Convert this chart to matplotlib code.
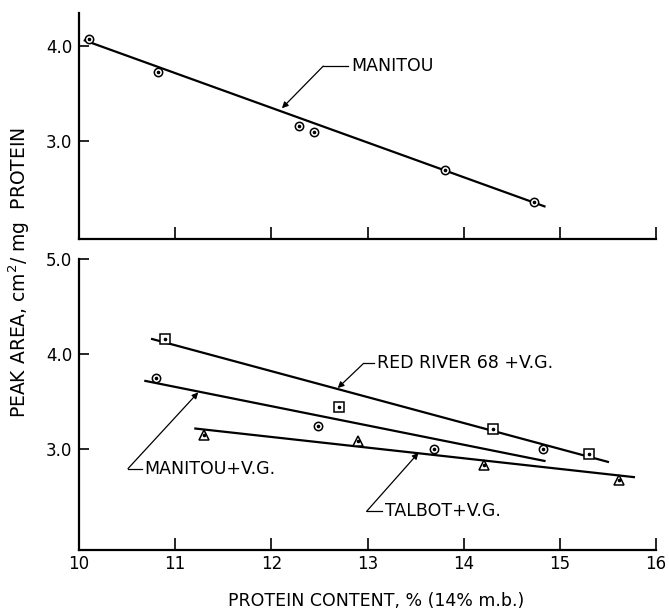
import numpy as np
import matplotlib
matplotlib.use("Agg")
import matplotlib.pyplot as plt

plt.rcParams['font.family'] = ['DejaVu Sans']

# upper panel: Manitou
man_x = [10.10, 10.82, 12.29, 12.44, 13.81, 14.73]
man_y = [4.08, 3.73, 3.155, 3.095, 2.69, 2.36]
man_fit_x = [10.06, 14.84]
man_fit_y = [4.06, 2.31]

# lower panel: flour + vital gluten
rr_x = [10.89, 12.70, 14.30, 15.30]
rr_y = [4.16, 3.446, 3.22, 2.95]
rr_fit_x = [10.76, 15.50]
rr_fit_y = [4.16, 2.87]

mvg_x = [10.80, 12.49, 13.69, 14.82]
mvg_y = [3.75, 3.25, 3.00, 3.00]
mvg_fit_x = [10.69, 14.84]
mvg_fit_y = [3.72, 2.88]

tal_x = [11.30, 12.90, 14.21, 15.61]
tal_y = [3.15, 3.09, 2.84, 2.675]
tal_fit_x = [11.21, 15.77]
tal_fit_y = [3.22, 2.71]

top_yticks = [3.0, 4.0]
bot_yticks = [3.0, 4.0, 5.0]
xticks = [10, 11, 12, 13, 14, 15, 16]

fig = plt.figure(figsize=(6.69, 6.09), dpi=100)
ax1 = fig.add_axes([0.1181, 0.6076, 0.8625, 0.3706])
ax2 = fig.add_axes([0.1181, 0.0977, 0.8625, 0.4770])


def style(ax, yticks, ylim, labels):
    ax.set_xlim(10, 16)
    ax.set_ylim(*ylim)
    for s in ['top', 'right']:
        ax.spines[s].set_visible(False)
    for s in ['left', 'bottom']:
        ax.spines[s].set_linewidth(1.6)
    ax.set_xticks(xticks)
    ax.set_yticks(yticks)
    ax.set_yticklabels(['%.1f' % v for v in yticks], fontsize=12)
    if labels:
        ax.set_xticklabels([str(v) for v in xticks], fontsize=12)
    else:
        ax.set_xticklabels([])
    ax.tick_params(axis='x', direction='in', length=9, width=1.2, pad=4)
    ax.tick_params(axis='y', direction='in', length=7, width=1.2, pad=5)


def pts(ax, x, y, marker, ms):
    ax.plot(x, y, linestyle='none', marker=marker, ms=ms, mfc='white',
            mec='black', mew=1.1, zorder=3)
    ax.plot(x, y, linestyle='none', marker='o', ms=1.6, color='black', zorder=4)


def leader(ax, label, tip, elbow, tx):
    ax.plot([elbow[0], tx - 0.03], [elbow[1], elbow[1]], color='black', lw=0.9)
    ax.annotate('', xy=tip, xytext=elbow,
                arrowprops=dict(arrowstyle='-|>', color='black', lw=0.9,
                                mutation_scale=9, shrinkA=0, shrinkB=0))
    ax.text(tx, elbow[1], label, ha='left', va='center', fontsize=12.5)


style(ax1, top_yticks, (1.966, 4.347), False)
style(ax2, bot_yticks, (1.95, 5.0), True)

ax1.plot(man_fit_x, man_fit_y, color='black', lw=1.6)
pts(ax1, man_x, man_y, 'o', 6)
leader(ax1, 'MANITOU', (12.11, 3.345), (12.54, 3.79), 12.83)

ax2.plot(rr_fit_x, rr_fit_y, color='black', lw=1.6)
ax2.plot(mvg_fit_x, mvg_fit_y, color='black', lw=1.6)
ax2.plot(tal_fit_x, tal_fit_y, color='black', lw=1.6)
pts(ax2, rr_x, rr_y, 's', 6.5)
pts(ax2, mvg_x, mvg_y, 'o', 6)
pts(ax2, tal_x, tal_y, '^', 7.5)

leader(ax2, 'RED RIVER 68 +V.G.', (12.69, 3.645), (12.96, 3.905), 13.10)
leader(ax2, 'MANITOU+V.G.', (11.24, 3.60), (10.51, 2.80), 10.68)
leader(ax2, 'TALBOT+V.G.', (13.53, 2.965), (12.99, 2.35), 13.18)

fig.text(19 / 669, 1 - 273 / 609, 'PEAK AREA, cm$^2$/ mg  PROTEIN',
         rotation=90, ha='center', va='center', fontsize=13.5)
fig.text(376 / 669, 1 - 601 / 609, 'PROTEIN CONTENT, % (14% m.b.)',
         ha='center', va='center', fontsize=12.5)

fig.savefig('out.png', dpi=100)
